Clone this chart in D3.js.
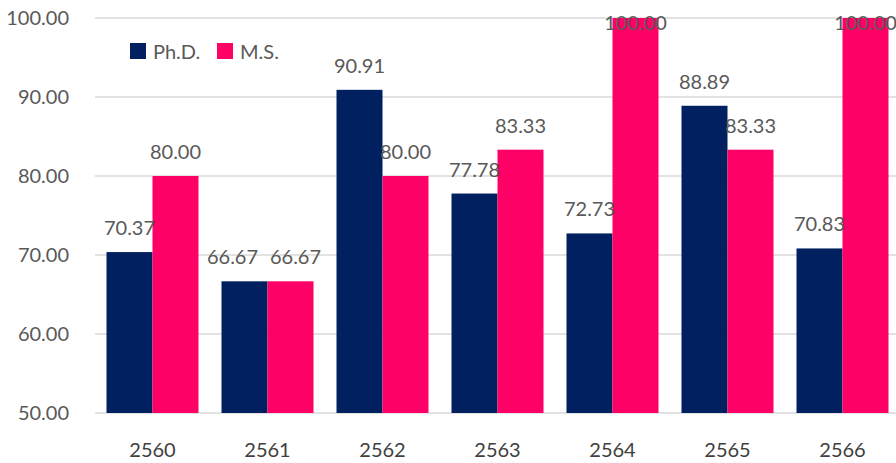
<!DOCTYPE html>
<html lang="en">
<head>
  <meta charset="UTF-8">
  <title>Ph.D. / M.S. by year</title>
  <script src="https://d3js.org/d3.v7.min.js"></script>
  <style>
    body {
      margin: 0;
      background-color: #ffffff;
      font-family: 'Lato', 'Noto Sans', sans-serif;
    }
    svg {
      display: block;
    }
    .grid line {
      stroke: #d9d9d9;
      stroke-width: 1.5px;
    }
    .tick-label {
      font-size: 20px;
      fill: #595959;
    }
    .cat-label {
      font-size: 20px;
      fill: #404040;
    }
    .value-label {
      font-size: 20px;
      fill: #595959;
    }
  </style>
</head>
<body>
  <svg width="896" height="463"></svg>
  <script>
    const years = ["2560", "2561", "2562", "2563", "2564", "2565", "2566"];
    const phd = [70.37, 66.67, 90.91, 77.78, 72.73, 88.89, 70.83];
    const ms = [80.00, 66.67, 80.00, 83.33, 100.00, 83.33, 100.00];
    const seriesNames = ["Ph.D.", "M.S."];
    const colors = ["#002060", "#FF0066"];
    const yTicks = [50, 60, 70, 80, 90, 100];

    const series = [phd, ms];

    const svg = d3.select("svg");

    const x = d3.scaleBand()
      .domain(years)
      .range([95, 900])
      .paddingInner(0.2)
      .paddingOuter(0.1);

    const xInner = d3.scaleBand()
      .domain(seriesNames)
      .range([0, x.bandwidth()]);

    const y = d3.scaleLinear()
      .domain([50, 100])
      .range([413, 18]);

    // gridlines
    const grid = svg.append("g").attr("class", "grid");
    grid.selectAll("line")
      .data(yTicks)
      .enter()
      .append("line")
      .attr("x1", 95)
      .attr("x2", 896)
      .attr("y1", d => y(d))
      .attr("y2", d => y(d));

    // y labels
    svg.append("g")
      .selectAll("text")
      .data(yTicks)
      .enter()
      .append("text")
      .attr("class", "tick-label")
      .attr("x", 69)
      .attr("y", d => y(d))
      .attr("dy", "0.35em")
      .attr("text-anchor", "end")
      .text(d => d.toFixed(2));

    // bars
    seriesNames.forEach((name, i) => {
      const g = svg.append("g");
      g.selectAll("rect")
        .data(series[i])
        .enter()
        .append("rect")
        .attr("x", (d, j) => x(years[j]) + xInner(name))
        .attr("y", d => y(d))
        .attr("width", xInner.bandwidth())
        .attr("height", d => y(50) - y(d))
        .attr("fill", colors[i]);
    });

    // value labels (pushed apart when both bars have the same height, like excel does)
    seriesNames.forEach((name, i) => {
      svg.append("g")
        .selectAll("text")
        .data(series[i])
        .enter()
        .append("text")
        .attr("class", "value-label")
        .attr("x", (d, j) => {
          const cx = x(years[j]) + xInner(name) + xInner.bandwidth() / 2;
          const same = Math.abs(phd[j] - ms[j]) < 1;
          return same ? cx + (i === 0 ? -12 : 5) : cx;
        })
        .attr("y", d => Math.max(y(d) - 24, 23))
        .attr("dy", "0.35em")
        .attr("text-anchor", "middle")
        .text(d => d.toFixed(2));
    });

    // category labels
    svg.append("g")
      .selectAll("text")
      .data(years)
      .enter()
      .append("text")
      .attr("class", "cat-label")
      .attr("x", d => x(d) + x.bandwidth() / 2)
      .attr("y", 450)
      .attr("dy", "0.35em")
      .attr("text-anchor", "middle")
      .text(d => d);

    // legend
    const legendX = [130, 217];
    const legend = svg.append("g");
    seriesNames.forEach((name, i) => {
      legend.append("rect")
        .attr("x", legendX[i])
        .attr("y", 43)
        .attr("width", 16)
        .attr("height", 16)
        .attr("fill", colors[i]);
      legend.append("text")
        .attr("class", "tick-label")
        .attr("x", legendX[i] + 23)
        .attr("y", 52)
        .attr("dy", "0.35em")
        .text(name);
    });
  </script>
</body>
</html>
